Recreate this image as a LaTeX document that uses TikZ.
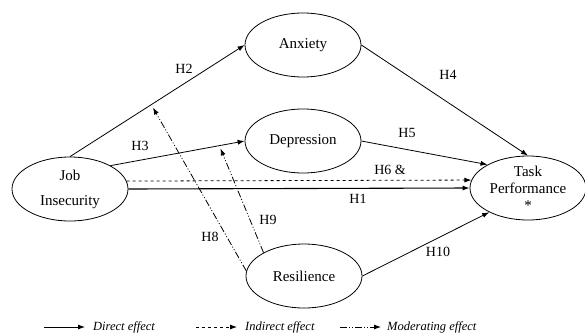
\documentclass[tikz,border=0pt]{standalone}
\usepackage{fontspec}
\setmainfont{Liberation Serif}
\usetikzlibrary{shapes.geometric,arrows.meta}
\tikzset{
  construct/.style={ellipse,draw,line width=.8pt,minimum width=116pt,minimum height=64pt,
    inner sep=0pt,align=center,font=\fontsize{15}{17}\selectfont},
  hyp/.style={font=\fontsize{14}{16}\selectfont,inner sep=1pt},
  effect/.style={line width=.8pt,-{Latex[length=7pt,width=5pt]}},
  moderating/.style={effect,dash pattern=on 7pt off 2pt on 1pt off 2pt on 1pt off 2pt},
  legendtext/.style={font=\fontsize{12.5}{14}\itshape,anchor=west,inner sep=0pt}
}
\begin{document}
\begin{tikzpicture}[x=1pt,y=-1pt]
\useasboundingbox (0,0) rectangle (585,335);
% constructs
\node[construct] (ji)  at (70,189)  {Job\\[8pt]Insecurity};
\node[construct] (anx) at (303,45)  {Anxiety};
\node[construct] (dep) at (303,141) {Depression};
\node[construct] (res) at (304,276) {Resilience};
\node[construct] (tp)  at (528,188) {Task\\Performance\\*};
% direct and indirect paths
\draw[effect] (ji.north) -- (anx.west) coordinate[pos=.475] (onh2);
\draw[effect] (ji.30) -- (dep.west) coordinate[pos=.82] (onh3);
\draw[effect] (anx.east) -- (tp.north);
\draw[effect] (dep.east) -- (tp.150);
\draw[effect,dashed] (ji.8) -- (tp.172);
\draw[effect,line width=1.1pt] (ji.east) -- (tp.west);
\draw[effect] (res.east) -- (tp.212);
% moderation
\draw[moderating] (res.175) -- ([yshift=-4pt]onh2);
\draw[moderating] (res.150) -- ([yshift=-3pt]onh3);
% hypotheses
\node[hyp] (lh2)  at (184,69)  {H2};
\node[hyp] (lh3)  at (140,146) {H3};
\node[hyp] (lh4)  at (448,75)  {H4};
\node[hyp] (lh5)  at (407,133) {H5};
\node[hyp] (lh6)  at (390,170) {H6 \&};
\node[hyp] (lh1)  at (358,199) {H1};
\node[hyp] (lh10) at (438,252) {H10};
\node[hyp] (lh8)  at (210,237) {H8};
\node[hyp] (lh9)  at (268,220) {H9};
% legend
\node[legendtext] (ldirect) at (93,327)  {Direct effect};
\node[legendtext] (lindir)  at (245,327) {Indirect effect};
\node[legendtext] (lmod)    at (387,327) {Moderating effect};
\coordinate (sdirect) at (44,327);
\coordinate (sindir)  at (196,327);
\coordinate (smod)    at (340,327);
\draw[effect] (sdirect) -- ([xshift=-8pt]ldirect.west);
\draw[effect,dashed] (sindir) -- ([xshift=-8pt]lindir.west);
\draw[moderating] (smod) -- ([xshift=-6pt]lmod.west);
\end{tikzpicture}
\end{document}
